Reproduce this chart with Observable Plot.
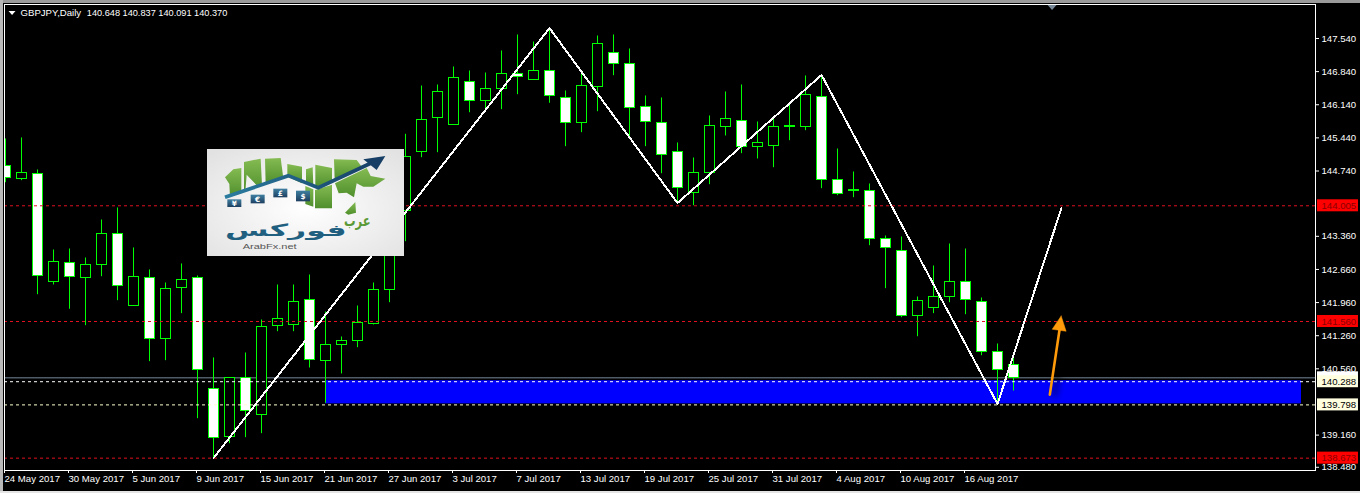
<!DOCTYPE html>
<html><head><meta charset="utf-8">
<script src="https://cdn.jsdelivr.net/npm/d3@7"></script>
<script src="https://cdn.jsdelivr.net/npm/@observablehq/plot@0.6"></script>
<style>
html,body{margin:0;padding:0;background:#000;overflow:hidden}
#wrap{position:relative;width:1360px;height:493px;overflow:hidden}
.edge{position:absolute}
#logo{position:absolute;left:207px;top:149px;width:197px;height:107px;display:block}
</style></head><body>
<div id="wrap"></div>
<script>
const symbolLabel = "GBPJPY,Daily";
const quoteLabel = "140.648 140.837 140.091 140.370";

const opens = [144.846,144.586,144.692,142.410,142.803,142.495,142.769,143.424,141.903,142.495,141.206,142.283,142.495,140.149,139.135,140.367,139.600,141.480,141.502,142.030,140.741,141.071,141.155,141.514,142.241,143.910,145.148,145.875,145.727,146.636,146.234,146.488,146.796,146.670,146.868,146.298,145.769,146.530,147.248,147.016,146.107,145.769,145.157,144.290,144.713,145.685,145.812,145.262,145.283,145.676,145.685,146.319,144.565,144.326,144.333,143.319,143.065,141.692,141.860,142.093,142.410,141.988,140.931,140.648];
const highs = [145.417,145.438,144.762,143.071,143.092,142.902,143.705,143.959,143.114,142.649,142.374,142.776,142.522,140.790,140.367,140.895,141.592,142.332,142.332,142.543,141.762,141.233,141.888,142.374,144.233,145.516,146.536,146.558,146.938,146.853,146.811,147.276,147.614,147.466,147.762,146.431,146.811,147.593,147.614,147.318,146.325,146.283,145.332,145.015,145.903,146.410,146.558,145.776,145.860,146.135,146.748,146.769,145.205,144.719,144.466,143.367,143.346,142.078,142.733,143.198,143.092,142.057,141.085,140.837];
const lows = [144.493,144.536,142.127,142.332,141.819,141.472,142.507,142.000,141.899,140.712,140.733,141.726,139.507,138.671,138.979,139.106,139.190,141.345,141.345,140.578,139.833,140.452,141.007,141.487,141.958,143.247,145.021,145.127,145.702,145.972,146.050,146.036,146.353,146.663,146.171,145.254,145.550,145.993,146.754,145.465,145.254,144.683,144.071,144.007,144.451,145.480,145.106,144.994,144.810,145.381,145.592,144.367,144.219,144.176,143.162,142.254,141.641,141.239,141.726,141.958,141.704,140.838,139.818,140.091];
const closes = [144.593,144.713,142.522,142.832,142.516,142.769,143.424,142.326,142.516,141.206,142.262,142.452,140.551,139.114,140.367,139.685,141.459,141.628,141.988,140.762,141.079,141.163,141.544,142.241,143.874,145.051,145.833,146.424,146.720,146.234,146.488,146.805,146.741,146.868,146.340,145.769,146.551,147.439,147.016,146.086,145.791,145.093,144.396,144.713,145.706,145.854,145.262,145.347,145.685,145.706,146.361,144.565,144.269,144.339,143.319,143.128,141.692,142.008,142.093,142.410,142.030,140.931,140.551,140.370];

const dateTicks = [0,4,8,12,16,20,24,28,32,36,40,44,48,52,56,60];
const dateLabels = ["24 May 2017","30 May 2017","5 Jun 2017","9 Jun 2017","15 Jun 2017","21 Jun 2017","27 Jun 2017","3 Jul 2017","7 Jul 2017","13 Jul 2017","19 Jul 2017","25 Jul 2017","31 Jul 2017","4 Aug 2017","10 Aug 2017","16 Aug 2017"];
const priceTicks = [147.54,146.84,146.14,145.44,144.74,143.36,142.66,141.96,141.26,140.56,139.16,138.48];

const zigzagX = [13,34,42,51,62,66];
const zigzagY = [138.673,147.76,144.064,146.769,139.818,143.959];

const redLevels = [144.005,141.56,138.673];
const whiteLevel = 140.288;
const paleLevel = 139.798;
const closeLevel = 140.37;
const zone = {start:20,end:81,top:140.32,bottom:139.83};

const arrowShaftX = [65.27,65.875];
const arrowShaftY = [140.014,141.381];
const arrowHeadX = [65.98,65.42,66.29,65.98];
const arrowHeadY = [141.677,141.396,141.354,141.677];
const shiftX = [65.13,65.69,65.41,65.13];
const shiftY = [148.25,148.25,148.14,148.25];
const menuX = [0.19,0.625,0.41,0.19];
const menuY = [148.121,148.121,148.037,148.121];

const FONT = '"Liberation Sans",sans-serif';
const FS = 9.6;
const bars = opens.map((o,i)=>({i,open:o,high:highs[i],low:lows[i],close:closes[i]}));
const pts = (xs,ys)=>xs.map((x,k)=>({x,y:ys[k]}));
const half = 5/16;
const tagX1 = 82, tagX2 = 84.56, tagH = 0.127, tagTextX = 82.25;
const GREEN = "#00ff00";

const chart = Plot.plot({
  width:1360, height:493,
  marginLeft:4, marginRight:45, marginTop:4, marginBottom:23,
  x:{domain:[-0.0625,81.875], axis:null},
  y:{domain:[138.412,148.258], axis:null},
  style:{background:"#000",fontFamily:FONT,fontSize:FS+"px",color:"#fff"},
  marks:[
    Plot.rect([zone],{x1:"start",x2:"end",y1:"top",y2:"bottom",fill:"#0000ff",dy:.5}),
    Plot.ruleY([closeLevel],{stroke:"#778899"}),
    Plot.ruleX(bars,{x:"i",y1:"low",y2:"high",stroke:GREEN,clip:true}),
    Plot.rect(bars,{x1:d=>d.i-half,x2:d=>d.i+half,y1:"open",y2:"close",
      fill:d=>d.close<d.open?"#fff":"#000",stroke:GREEN,clip:true,dx:.5,dy:.5,shapeRendering:"crispEdges"}),
    Plot.ruleY(redLevels,{stroke:"#e01020",strokeDasharray:"3,3"}),
    Plot.ruleY([whiteLevel],{stroke:"#fff",strokeDasharray:"3,3"}),
    Plot.ruleY([paleLevel],{stroke:"#ffffd0",strokeDasharray:"3,3"}),
    Plot.line(pts(zigzagX,zigzagY),{x:"x",y:"y",stroke:"#fff",strokeWidth:2,shapeRendering:"crispEdges"}),
    Plot.line(pts(arrowShaftX,arrowShaftY),{x:"x",y:"y",stroke:"#000",strokeOpacity:.45,strokeWidth:5,dx:5,imageFilter:"blur(3px)"}),
    Plot.line(pts(arrowShaftX,arrowShaftY),{x:"x",y:"y",stroke:"#ff9a0a",strokeWidth:2.6}),
    Plot.line(pts(arrowHeadX,arrowHeadY),{x:"x",y:"y",fill:"#ff9a0a",stroke:"#ff9a0a",strokeWidth:.5}),
    Plot.line(pts(shiftX,shiftY),{x:"x",y:"y",fill:"#778899",stroke:"none"}),
    Plot.line(pts(menuX,menuY),{x:"x",y:"y",fill:"#fff",stroke:"none"}),
    Plot.frame({stroke:"#fff"}),
    Plot.axisX({ticks:dateTicks,tickFormat:d=>dateLabels[dateTicks.indexOf(d)],tickSize:3,tickPadding:2,textAnchor:"start",stroke:"#fff",color:"#fff",label:null,fontSize:FS,dx:-1}),
    Plot.axisY({anchor:"right",ticks:priceTicks,tickFormat:d3.format(".3f"),tickSize:3,tickPadding:3,stroke:"#fff",color:"#fff",label:null,fontSize:FS}),
    Plot.rect([closeLevel],{x1:tagX1,x2:tagX2,y1:d=>d+tagH,y2:d=>d-tagH,fill:"#fff"}),
    Plot.rect(redLevels,{x1:tagX1,x2:tagX2,y1:d=>d+tagH,y2:d=>d-tagH,fill:"#ff0000"}),
    Plot.rect([whiteLevel,paleLevel],{x1:tagX1,x2:tagX2,y1:d=>d+tagH,y2:d=>d-tagH,fill:"#ffffe0"}),
    Plot.text(redLevels,{x:tagTextX,y:d=>d,text:d=>d3.format(".3f")(d),fill:"#8a0000",textAnchor:"start",fontSize:FS}),
    Plot.text([whiteLevel,paleLevel],{x:tagTextX,y:d=>d,text:d=>d3.format(".3f")(d),fill:"#000",textAnchor:"start",fontSize:FS}),
    Plot.text([symbolLabel],{x:0.94,y:148.08,text:d=>d,fill:"#fff",textAnchor:"start",fontSize:FS}),
    Plot.text([quoteLabel],{x:5.08,y:148.08,text:d=>d,fill:"#fff",textAnchor:"start",fontSize:9.2})
  ]
});
const wrap = document.getElementById("wrap");
wrap.appendChild(chart);
chart.style.display="block";

for (const [l,t,w,h,c] of [[0,0,1360,3,"#9a9a9a"],[0,0,3,493,"#b8b8b8"],[0,491,1360,2,"#e4e4e4"]]) {
  const e=document.createElement("div");e.className="edge";
  e.style.cssText=`left:${l}px;top:${t}px;width:${w}px;height:${h}px;background:${c}`;
  wrap.appendChild(e);
}

wrap.insertAdjacentHTML("beforeend",`
<svg id="logo" viewBox="21 27 591 321" preserveAspectRatio="none" xmlns="http://www.w3.org/2000/svg">
<defs>
<radialGradient id="lg" cx="50%" cy="55%" r="70%"><stop offset="0" stop-color="#ffffff"/><stop offset="1" stop-color="#e2e2e2"/></radialGradient>
<linearGradient id="gr" x1="0" y1="0" x2="0" y2="1"><stop offset="0" stop-color="#85bb52"/><stop offset="1" stop-color="#4f8f2c"/></linearGradient>
<linearGradient id="ar" x1="0" y1="0" x2="1" y2="0"><stop offset="0" stop-color="#2a7da0"/><stop offset="1" stop-color="#173f66"/></linearGradient>
<linearGradient id="bx" x1="0" y1="0" x2="0" y2="1"><stop offset="0" stop-color="#3f7fa0"/><stop offset="1" stop-color="#1d3f60"/></linearGradient>
</defs>
<rect x="21" y="27" width="591" height="321" fill="url(#lg)"/>
<g fill="url(#gr)">
<path d="M75 112 L100 88 L124 84 L124 160 L90 170 L88 132 Z"/>
<path d="M132 66 L182 56 L186 136 L172 138 L140 104 L136 155 L132 155 Z"/>
<path d="M195 56 L242 54 L250 115 L197 132 Z"/>
<path d="M262 72 L306 80 L306 130 L262 110 Z"/>
<path d="M318 88 L338 82 L340 138 L318 128 Z"/>
<path d="M346 74 L396 84 L396 125 L362 143 L346 140 Z"/>
<path d="M402 58 L470 60 L488 84 L420 118 L404 118 Z"/>
<path d="M345 150 L396 134 L396 205 L345 205 Z"/>
<path d="M316 138 L340 148 L340 200 L316 192 Z"/>
<path d="M405 130 L500 84 L512 108 L556 116 L520 140 L490 140 L470 130 L462 172 L440 158 L416 160 Z"/>
<path d="M435 218 L466 186 L468 218 L445 224 Z"/>
</g>
<path d="M75 172 L265 107 L355 143 L520 66" fill="none" stroke="url(#ar)" stroke-width="11"/>
<path d="M556 48 L490 58 L530 90 Z" fill="#173f66"/>
<g fill="url(#bx)">
<rect x="82" y="178" width="42" height="23"/>
<rect x="152" y="164" width="42" height="26"/>
<rect x="220" y="146" width="42" height="26"/>
<rect x="288" y="152" width="42" height="32"/>
</g>
<g fill="#fff" font-family="DejaVu Sans" font-weight="bold" font-size="22" text-anchor="middle">
<text x="103" y="197">¥</text><text x="173" y="185">€</text><text x="241" y="167">£</text><text x="309" y="176">$</text>
</g>
<text x="432" y="258" font-family="DejaVu Sans" font-weight="bold" font-size="46" fill="#5c9a38" textLength="80" lengthAdjust="spacingAndGlyphs">عرب</text>
<text x="75" y="288" font-family="DejaVu Sans" font-weight="bold" font-size="50" fill="#1f5f80" textLength="365" lengthAdjust="spacingAndGlyphs">فوركس</text>
<text x="128" y="326" font-family="Liberation Sans" font-size="22" fill="#555" textLength="162" lengthAdjust="spacingAndGlyphs">ArabFx.net</text>
</svg>`);
</script>
</body></html>
